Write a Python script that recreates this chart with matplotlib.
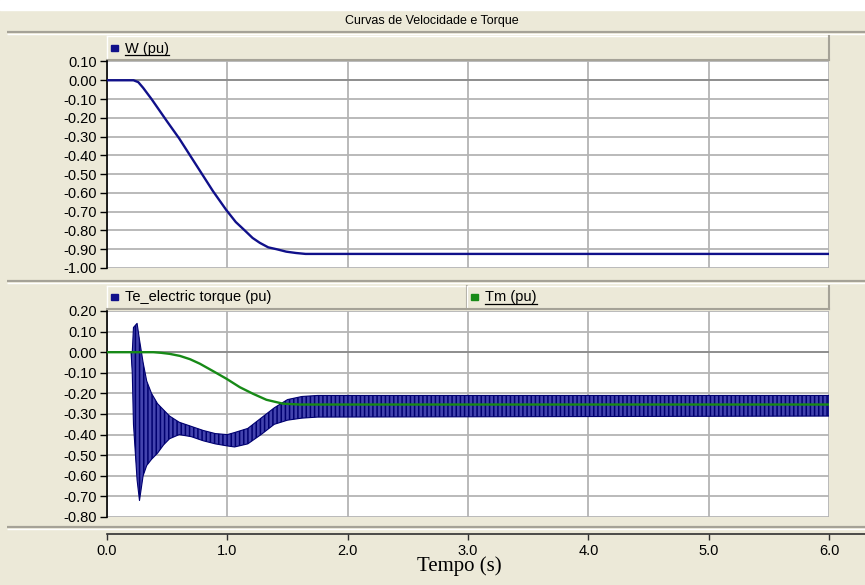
import matplotlib
matplotlib.use("Agg")
import matplotlib.pyplot as plt
from matplotlib.patches import Rectangle

plt.rcParams['font.family'] = ['Liberation Sans', 'DejaVu Sans']
plt.rcParams['hatch.linewidth'] = 1.1

# Speed W (pu)
w_t = [0, 0.22, 0.26, 0.30, 0.37, 0.50, 0.60, 0.70, 0.77, 0.88, 0.99, 1.07, 1.145,
       1.21, 1.27, 1.34, 1.41, 1.49, 1.57, 1.65, 6.0]
w_v = [0, 0, -0.01, -0.04, -0.10, -0.22, -0.31, -0.41, -0.48, -0.59, -0.69, -0.755, -0.80,
       -0.84, -0.866, -0.89, -0.90, -0.913, -0.92, -0.925, -0.925]

# Mechanical torque Tm (pu)
tm_t = [0, 0.385, 0.45, 0.52, 0.606, 0.69, 0.772, 0.882, 0.993, 1.104, 1.214, 1.325,
        1.463, 1.601, 6.0]
tm_v = [0, 0, -0.003, -0.008, -0.018, -0.034, -0.056, -0.092, -0.129, -0.170, -0.202,
        -0.231, -0.250, -0.254, -0.254]

# Electric torque Te (pu): envelope of the oscillation
te_t = [0, 0.20, 0.21, 0.22, 0.25, 0.27, 0.30, 0.33, 0.37, 0.42, 0.47, 0.52, 0.60, 0.70,
        0.80, 0.90, 1.00, 1.06, 1.17, 1.28, 1.39, 1.50, 1.62, 1.75, 6.0]
te_hi = [0, 0, 0.0, 0.12, 0.14, 0.06, -0.05, -0.14, -0.20, -0.25, -0.28, -0.31, -0.34, -0.36,
         -0.38, -0.395, -0.40, -0.39, -0.37, -0.32, -0.27, -0.23, -0.215, -0.21, -0.21]
te_lo = [0, 0, -0.10, -0.35, -0.62, -0.72, -0.60, -0.55, -0.52, -0.49, -0.45, -0.42, -0.40, -0.41,
         -0.43, -0.445, -0.455, -0.46, -0.445, -0.40, -0.35, -0.33, -0.32, -0.315, -0.31]

w_ticks = [0.10, 0.00, -0.10, -0.20, -0.30, -0.40, -0.50, -0.60, -0.70, -0.80, -0.90, -1.00]
t_ticks = [0.20, 0.10, 0.00, -0.10, -0.20, -0.30, -0.40, -0.50, -0.60, -0.70, -0.80]
x_ticks = [0, 1, 2, 3, 4, 5, 6]
x_labels = ['0.0', '1.0', '2.0', '3.0', '4.0', '5.0', '6.0']

BG = '#ECE9D8'
EDGE = '#A5A297'
GRID = '#B4B4B4'
NAVY = '#10108A'
GREEN = '#178A17'
W, H = 865, 585
X0, X1 = 107, 829


def box(l, t, r, b):
    return [l / W, 1 - b / H, (r - l) / W, (b - t) / H]


fig = plt.figure(figsize=(W / 100, H / 100), dpi=100, facecolor=BG)

# background layer in pixel coordinates
bg = fig.add_axes([0, 0, 1, 1])
bg.set_xlim(0, W)
bg.set_ylim(H, 0)
bg.axis('off')
bg.set_zorder(-1)

bg.add_patch(Rectangle((0, 0), W, 10, color='white'))
bg.text(432, 21, 'Curvas de Velocidade e Torque', fontsize=9, ha='center', va='center')


def separator(y):
    bg.plot([7, W], [y, y], color=EDGE, lw=1.6, solid_capstyle='butt')
    bg.plot([7, W], [y + 2, y + 2], color='white', lw=1, solid_capstyle='butt')


def header(x0, x1, y0, y1):
    bg.add_patch(Rectangle((x0, y0), x1 - x0, y1 - y0, facecolor=BG, edgecolor='none'))
    bg.plot([x0, x1], [y0, y0], color='white', lw=1)
    bg.plot([x0, x0], [y0, y1], color='white', lw=1)
    bg.plot([x0, x1], [y1, y1], color=EDGE, lw=1.5)
    bg.plot([x1, x1], [y0, y1], color=EDGE, lw=1.5)


underlined = []


def legend_entry(x, y, color, label, underline):
    bg.add_patch(Rectangle((x, y - 3.5), 7, 6, color=color))
    txt = bg.text(x + 14, y, label, fontsize=10.5, ha='left', va='center')
    if underline:
        underlined.append(txt)


separator(32)
header(X0, X1, 36, 60)
legend_entry(111, 48.5, NAVY, 'W (pu)', True)

separator(281)
header(X0, 467, 286, 309)
header(467, X1, 286, 309)
legend_entry(111, 297.5, NAVY, 'Te_electric torque (pu)', False)
legend_entry(471, 297.5, GREEN, 'Tm (pu)', True)

separator(527)


def panel(top, bottom, ticks):
    ax = fig.add_axes(box(X0, top, X1, bottom))
    ax.set_facecolor('white')
    ax.set_xlim(0, 6)
    ax.set_ylim(ticks[-1], ticks[0])
    ax.set_yticks(ticks)
    ax.set_yticklabels(['%.2f' % v for v in ticks], fontsize=10.5)
    ax.set_xticks(x_ticks)
    ax.set_xticklabels([])
    ax.tick_params(axis='x', length=0)
    ax.tick_params(axis='y', length=5, width=1, pad=2, color='black')
    ax.grid(True, color=GRID, lw=1.3)
    ax.axhline(0, color='#8C8C8C', lw=1.3, zorder=1)
    for s in ['top', 'right', 'bottom']:
        ax.spines[s].set_visible(False)
    ax.spines['left'].set_color('black')
    ax.spines['left'].set_linewidth(1.2)
    ax.set_axisbelow(True)
    return ax


ax1 = panel(61.5, 268, w_ticks)
ax1.plot(w_t, w_v, color=NAVY, lw=1.7, zorder=3)

ax2 = panel(311, 517, t_ticks)
ax2.fill_between(te_t, te_lo, te_hi, facecolor='#4343AE', edgecolor='#000070',
                 hatch='||||', lw=0.8, zorder=2)
ax2.plot(tm_t, tm_v, color=GREEN, lw=1.7, zorder=3)

# time axis
axx = fig.add_axes(box(X0, 520, W, 534))
axx.set_facecolor('none')
axx.set_xlim(0, 6 * (W - X0) / (X1 - X0))
axx.set_yticks([])
axx.set_xticks(x_ticks)
axx.set_xticklabels(x_labels, fontsize=10.5)
axx.tick_params(axis='x', length=4, width=1, pad=3, color='#303030')
for s in ['top', 'right', 'left']:
    axx.spines[s].set_visible(False)
axx.spines['bottom'].set_color('#303030')
axx.spines['bottom'].set_linewidth(1.2)

bg.text(459, 566, 'Tempo (s)', family=['Liberation Serif', 'DejaVu Serif'],
        fontsize=15, ha='center', va='center')

# underline legend labels
fig.canvas.draw()
r = fig.canvas.get_renderer()
inv = bg.transData.inverted()
for txt in underlined:
    bb = txt.get_window_extent(r)
    (ux0, uy), (ux1, _) = inv.transform([(bb.x0, bb.y0), (bb.x1, bb.y0)])
    bg.plot([ux0, ux1], [uy - 1, uy - 1], color='black', lw=0.9)

fig.savefig('out.png', dpi=100, facecolor=BG)
